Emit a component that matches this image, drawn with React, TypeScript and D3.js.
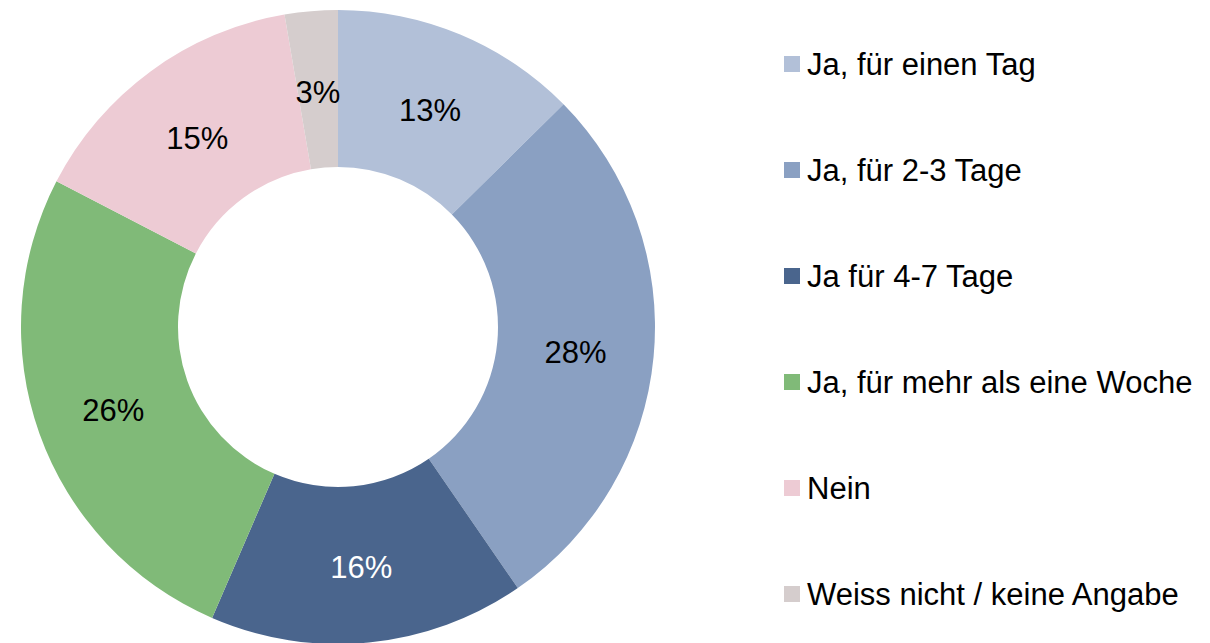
import React from "react";
import * as d3 from "d3";

const categories = [
  "Ja, für einen Tag",
  "Ja, für 2-3 Tage",
  "Ja für 4-7 Tage",
  "Ja, für mehr als eine Woche",
  "Nein",
  "Weiss nicht / keine Angabe",
];
const values = [12.6, 27.8, 16.1, 26.1, 14.7, 2.7];
const colors = ["#B2C0D8", "#8AA0C2", "#4A658D", "#80BA78", "#EDCBD4", "#D5CDCD"];
const labelColors = ["#000", "#000", "#fff", "#000", "#000", "#000"];

const W = 1210;
const H = 643;
const cx = 338;
const cy = 327;
const outerR = 317;
const innerR = 160;
const font = "'Liberation Sans', Arial, sans-serif";

export default function App() {
  const total = d3.sum(values);
  const pie = d3.pie<number>().value((d) => d).sort(null);
  const arcs = pie(values);
  const arc = d3.arc<d3.PieArcDatum<number>>().innerRadius(innerR).outerRadius(outerR);
  const labelArc = d3
    .arc<d3.PieArcDatum<number>>()
    .innerRadius((innerR + outerR) / 2)
    .outerRadius((innerR + outerR) / 2);
  const legendY = d3.scalePoint<number>().domain(d3.range(categories.length)).range([64, 594]);

  return (
    <svg
      width={W}
      height={H}
      style={{ position: "absolute", left: 0, top: 0, background: "#fff" }}
    >
      <g transform={`translate(${cx},${cy})`}>
        {arcs.map((a, i) => (
          <path key={i} d={arc(a) || ""} fill={colors[i]} />
        ))}
        {arcs.map((a, i) => {
          const [x, y] = labelArc.centroid(a);
          return (
            <text
              key={i}
              x={x}
              y={y + 14}
              textAnchor="middle"
              fontFamily={font}
              fontSize={31}
              fill={labelColors[i]}
            >
              {Math.round((values[i] / total) * 100)}%
            </text>
          );
        })}
      </g>
      {categories.map((c, i) => {
        const y = legendY(i) as number;
        return (
          <g key={c}>
            <rect x={784} y={y - 8} width={16} height={16} fill={colors[i]} />
            <text x={807} y={y + 11} fontFamily={font} fontSize={31} fill="#000">
              {c}
            </text>
          </g>
        );
      })}
    </svg>
  );
}
